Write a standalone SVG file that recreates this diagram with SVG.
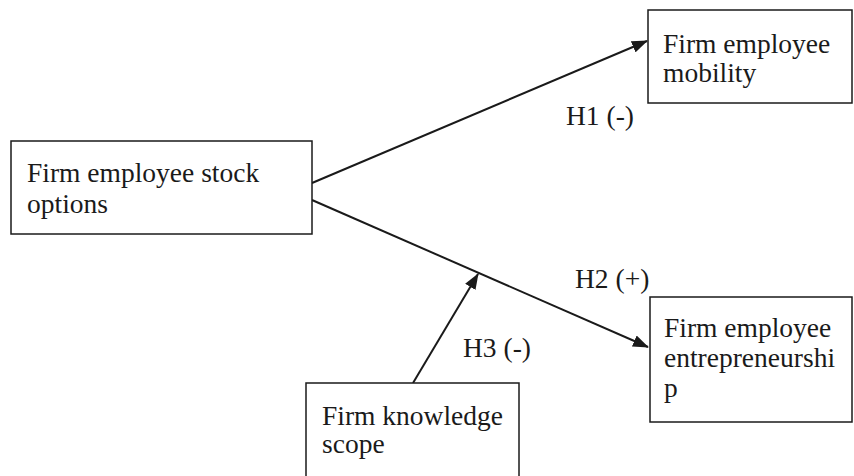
<svg xmlns="http://www.w3.org/2000/svg" width="854" height="476" viewBox="0 0 854 476">
<style>
.box{fill:#fff;stroke:#1a1a1a;stroke-width:1.5}
.t{font-family:"Liberation Serif","Times New Roman",serif;font-size:27.5px;fill:#1a1a1a}
.e{stroke:#1a1a1a;stroke-width:2;fill:none}
</style>
<defs>
<marker id="ah" markerUnits="userSpaceOnUse" markerWidth="16" markerHeight="12" refX="15" refY="6" orient="auto">
<path d="M0,0 L16,6 L0,12 Z" fill="#1a1a1a"/>
</marker>
</defs>
<rect width="854" height="476" fill="#fff"/>
<g id="connectors">
<line class="e" x1="312" y1="183" x2="647" y2="41" marker-end="url(#ah)"/>
<line class="e" x1="312" y1="200" x2="648" y2="347" marker-end="url(#ah)"/>
<line class="e" x1="413" y1="383" x2="478" y2="274" marker-end="url(#ah)"/>
<text class="t" x="566" y="125">H1 (-)</text>
<text class="t" x="575" y="288">H2 (+)</text>
<text class="t" x="463" y="357">H3 (-)</text>
</g>
<g id="stock-options">
<rect class="box" x="11" y="141" width="301" height="93"/>
<text class="t" x="27" y="182">Firm employee stock</text>
<text class="t" x="27" y="213">options</text>
</g>
<g id="mobility">
<rect class="box" x="648" y="10" width="204" height="93"/>
<text class="t" x="663" y="53">Firm employee</text>
<text class="t" x="663" y="82">mobility</text>
</g>
<g id="entrepreneurship">
<rect class="box" x="650" y="297" width="202" height="125"/>
<text class="t" x="664" y="337">Firm employee</text>
<text class="t" x="664" y="367">entrepreneurshi</text>
<text class="t" x="664" y="397">p</text>
</g>
<g id="knowledge-scope">
<rect class="box" x="306" y="383" width="213" height="100"/>
<text class="t" x="322" y="425">Firm knowledge</text>
<text class="t" x="322" y="453">scope</text>
</g>
</svg>
